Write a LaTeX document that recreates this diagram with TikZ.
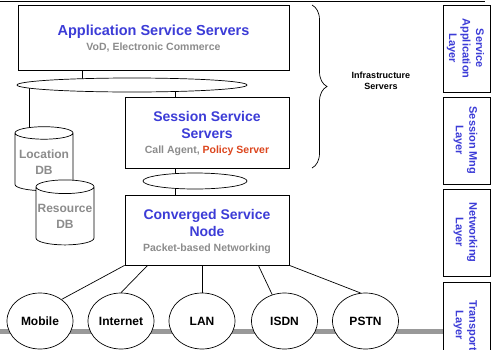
\documentclass[tikz,border=0pt]{standalone}
\usepackage{fontspec}
\setmainfont{Liberation Sans}
\usetikzlibrary{shapes.geometric, decorations.pathreplacing, backgrounds}
\definecolor{titleblue}{RGB}{60,60,215}
\definecolor{subgray}{RGB}{140,140,140}
\definecolor{policyred}{RGB}{220,70,30}
\tikzstyle{server} = [rectangle, draw=black, fill=white, text centered, align=center, text depth=-3.5pt, font=\bfseries\fontsize{14}{17}\selectfont]
\tikzstyle{bus} = [ellipse, draw=black, fill=white, inner sep=0pt]
\tikzstyle{database} = [cylinder, shape border rotate=90, shape aspect=0.25, draw=black, fill=white, align=center, text=subgray, inner sep=0pt, font=\bfseries\fontsize{12}{16}\selectfont]
\tikzstyle{access} = [ellipse, draw=black, fill=white, minimum width=66, minimum height=56, inner sep=0pt, font=\bfseries\fontsize{12}{14}\selectfont]
\tikzstyle{layer} = [rectangle, draw=black, fill=white, rotate=-90, minimum width=87, minimum height=47, align=center, text depth=-6.7pt, text=titleblue, font=\bfseries\fontsize{11}{13.5}\selectfont]
\tikzstyle{line} = [black, line width=0.7pt]
\newcommand{\titletext}[1]{{\color{titleblue}#1}}
\newcommand{\subtext}[1]{{\color{subgray}\fontsize{10.5}{15}\selectfont #1}}

\begin{document}
\begin{tikzpicture}[x=1pt, y=-1pt, line width=0.7pt]

\useasboundingbox (0,0) rectangle (491,349);
\clip (0,0) rectangle (491,349);

\node (app) [server, minimum width=271, minimum height=65] at (153.5,37.5) {\titletext{\fontsize{14.5}{17}\selectfont Application Service Servers}\\[-2pt]\subtext{VoD, Electronic Commerce}};
\node (bus1) [bus, minimum width=230, minimum height=14] at (132,85) {};
\node (session) [server, minimum width=164, minimum height=71] at (207,132.5) {\titletext{Session Service}\\\titletext{Servers}\\[-2pt]\subtext{Call Agent, {\color{policyred}Policy Server}}};
\node (bus2) [bus, minimum width=104, minimum height=16] at (195,181) {};
\node (conv) [server, minimum width=164, minimum height=70] at (207,230) {\titletext{Converged Service}\\\titletext{Node}\\[-2pt]\subtext{Packet-based Networking}};

\node (locdb) [database, minimum width=58, minimum height=64] at (44,162) {Location\\DB};
\node (resdb) [database, minimum width=58, minimum height=65] at (65,216) {Resource\\DB};

\node (mobile) [access] at (40,321) {Mobile};
\node (internet) [access] at (121,321) {Internet};
\node (lan) [access] at (202,321) {LAN};
\node (isdn) [access] at (284.5,321) {ISDN};
\node (pstn) [access] at (365.5,321) {PSTN};

\node (applayer) [layer] at (466.5,48.5) {Service\\Application\\Layer};
\node (sesslayer) [layer] at (466.5,140.5) {Session Mng\\Layer};
\node (netlayer) [layer] at (466.5,232.5) {Networking\\Layer};
\node (translayer) [layer] at (466.5,325.5) {Transport\\Layer};

\coordinate (bracetop) at (312,5);
\coordinate (bracebot) at (312,168);
\node (infra) [align=center, font=\bfseries\fontsize{9}{11}\selectfont] at (381,81) {Infrastructure\\Servers};
\draw [decorate, decoration={brace, amplitude=15pt}] (bracetop) -- (bracebot);

\coordinate (topleft) at (0,1.5);
\coordinate (topright) at (485,1.5);
\draw [line width=1.5pt] (topleft) -- (topright);

\begin{scope}[on background layer]
\coordinate (groundleft) at (0,331);
\coordinate (groundright) at (491,331);
\draw [black!40, line width=5pt] (groundleft) -- (groundright);
\draw [line] ([xshift=65pt]app.south west) -- ([xshift=65pt]app.south west |- bus1.center);
\draw [line] ([xshift=-15pt]locdb.center |- bus1.center) -- ([xshift=-15pt]locdb.center);
\draw [line] ([xshift=51pt]session.north west |- bus1.center) -- ([xshift=51pt]session.north west);
\draw [line] ([xshift=51pt]session.south west) -- ([xshift=51pt]conv.north west);
\draw [line] (conv.south west) -- (mobile.45);
\draw [line] ([xshift=23pt]conv.south west) -- (internet.north);
\draw [line] (lan.north |- conv.south) -- (lan.north);
\draw [line] ([xshift=-31pt]conv.south east) -- (isdn.115);
\draw [line] (conv.south east) -- (pstn.100);
\end{scope}

\end{tikzpicture}
\end{document}
